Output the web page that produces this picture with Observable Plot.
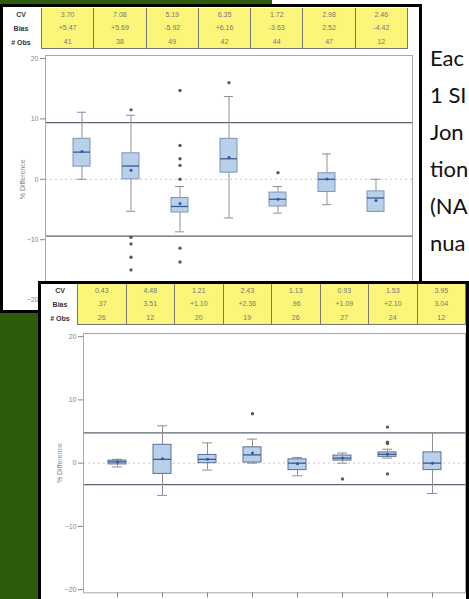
<!DOCTYPE html>
<html>
<head>
<meta charset="utf-8">
<script src="https://cdn.jsdelivr.net/npm/d3@7"></script>
<script src="https://cdn.jsdelivr.net/npm/@observablehq/plot@0.6"></script>
<style>
  html, body { margin: 0; padding: 0; background: #fff; }
  #page { position: relative; width: 469px; height: 599px; overflow: hidden; background: #fff; font-family: "Liberation Sans", Arial, sans-serif; }
  .green { position: absolute; left: 0; top: 0; width: 272px; height: 599px; background: #2e5a0c; }
  .panel { position: absolute; border: 3px solid #000; box-sizing: border-box; background: #fff; overflow: hidden; }
  .tbl { position: absolute; display: flex; background: #fbf57a; border-bottom: 1px solid #777; box-sizing: border-box; }
  .col { flex: 1; border-left: 1px solid #777; display: flex; flex-direction: column; justify-content: space-around; align-items: center; font-size: 7px; color: #777; }
  .col:last-child { border-right: 1px solid #777; }
  .lab { position: absolute; display: flex; flex-direction: column; justify-content: space-around; align-items: center; font-size: 7px; font-weight: bold; color: #333; }
  .side { position: absolute; left: 430px; top: 39px; font-family: Lato, "Open Sans", sans-serif; font-size: 22px; line-height: 37px; color: #111; white-space: pre; }
  .panel svg { position: absolute; }
</style>
</head>
<body>
<div id="page">
  <div class="green"></div>
  <div class="side" id="side"></div>
  <div class="panel" id="p1" style="left:0px; top:4px; width:422px; height:309px;"></div>
  <div class="panel" id="p2" style="left:38px; top:281px; width:431px; height:340px;"></div>
</div>
<script>
// ---------- Panel 1 (top) ----------
const cats1 = ["1", "2", "3", "4", "5", "6", "7"];
const cv1   = ["3.70", "7.08", "5.19", "6.35", "1.72", "2.98", "2.46"];
const bias1 = ["+5.47", "+5.69", "-5.92", "+6.16", "-3.63", "2.52", "-4.42"];
const obs1  = ["41", "38", "49", "42", "44", "47", "12"];
const lo1   = [0.0, -5.3, -8.7, -6.4, -5.6, -4.2, -5.3];
const q1s1  = [2.1, 0.0, -5.5, 1.1, -4.5, -2.1, -5.4];
const med1  = [4.5, 2.2, -4.5, 3.4, -3.3, 0.0, -3.1];
const q3s1  = [6.7, 4.3, -3.1, 6.7, -2.2, 1.0, -2.0];
const hi1   = [11.1, 10.6, -1.2, 13.7, -1.2, 4.2, 0.0];
const mean1 = [4.6, 1.5, -4.0, 3.6, -3.3, 0.05, -3.5];
const outCat1 = ["2", "2", "2", "2", "2", "3", "3", "3", "3", "3", "3", "3", "4", "5"];
const outVal1 = [11.5, -9.6, -10.7, -12.9, -15.0, 14.7, 5.6, 3.4, 2.3, 0.0, -11.4, -13.7, 16.0, 1.1];
const limits1 = [9.4, -9.4];

// ---------- Panel 2 (bottom) ----------
const cats2 = ["1", "2", "3", "4", "5", "6", "7", "8"];
const cv2   = ["0.43", "4.48", "1.21", "2.43", "1.13", "0.93", "1.53", "3.95"];
const bias2 = [".37", "3.51", "+1.10", "+2.36", ".96", "+1.09", "+2.10", "3.04"];
const obs2  = ["26", "12", "20", "19", "26", "27", "24", "12"];
const lo2   = [-0.6, -5.1, -1.1, 0.0, -2.0, 0.0, 0.8, -4.8];
const q1s2  = [-0.2, -1.7, 0.0, 0.1, -1.1, 0.4, 1.0, -1.1];
const med2  = [0.2, 0.6, 0.6, 1.3, 0.0, 0.8, 1.4, 0.0];
const q3s2  = [0.4, 2.9, 1.3, 2.5, 0.6, 1.2, 1.7, 1.7];
const hi2   = [0.6, 5.9, 3.2, 3.8, 0.9, 1.6, 2.2, 4.8];
const mean2 = [0.2, 0.7, 0.6, 1.6, -0.1, 0.8, 1.4, 0.0];
const outCat2 = ["4", "6", "7", "7", "7", "7"];
const outVal2 = [7.8, -2.5, 5.7, 3.3, 3.1, -1.7];
const limits2 = [4.8, -3.4];

const rowLabels = ["CV", "Bias", "# Obs"];
const yTicks = [-20, -10, 0, 10, 20];
const sideText = ["Eac", "1 SI", "Jon", "tion", "(NA", "nua"];

document.getElementById("side").textContent = sideText.join("\n");

function buildTable(panel, cv, bias, obs, tbl, lab) {
  const t = document.createElement("div");
  t.className = "tbl";
  Object.assign(t.style, tbl);
  cv.forEach((c, i) => {
    const col = document.createElement("div");
    col.className = "col";
    [c, bias[i], obs[i]].forEach(s => { const d = document.createElement("div"); d.textContent = s; col.appendChild(d); });
    t.appendChild(col);
  });
  panel.appendChild(t);
  const l = document.createElement("div");
  l.className = "lab";
  Object.assign(l.style, lab);
  rowLabels.forEach(s => { const d = document.createElement("div"); d.textContent = s; l.appendChild(d); });
  panel.appendChild(l);
}

function boxPlot(o) {
  const stats = o.cats.map((c, i) => ({cat: c, lo: o.lo[i], q1: o.q1[i], med: o.med[i], q3: o.q3[i], hi: o.hi[i], mean: o.mean[i]}));
  const outs = o.outCat.map((c, i) => ({cat: c, v: o.outVal[i]}));
  return Plot.plot({
    width: o.width, height: o.height,
    marginLeft: 42, marginRight: o.marginRight, marginTop: o.marginTop, marginBottom: 30,
    style: {background: "transparent", fontFamily: "Liberation Sans, Arial, sans-serif", fontSize: "7px", color: "#888", overflow: "visible"},
    x: {type: "band", domain: o.cats, paddingInner: o.pi, paddingOuter: o.po, axis: null},
    y: {domain: [-20.5, 20.5], axis: null},
    marks: [
      Plot.ruleY([0], {stroke: "#c8c8c8", strokeDasharray: "2,3"}),
      Plot.ruleY(o.limits, {stroke: "#5d6475", strokeWidth: 1.2}),
      Plot.ruleX(stats, {x: "cat", y1: "lo", y2: "hi", stroke: "#8f8f8f"}),
      Plot.tickY(stats, {x: "cat", y: "lo", stroke: "#8f8f8f", insetLeft: 4, insetRight: 4}),
      Plot.tickY(stats, {x: "cat", y: "hi", stroke: "#8f8f8f", insetLeft: 4, insetRight: 4}),
      Plot.barY(stats, {x: "cat", y1: "q1", y2: "q3", fill: "#b9d0ea", stroke: o.boxStroke, strokeWidth: 1}),
      Plot.tickY(stats, {x: "cat", y: "med", stroke: "#3b5a8c", strokeWidth: 1.3}),
      Plot.dot(stats, {x: "cat", y: "mean", r: 1.5, fill: "#2f54a8"}),
      Plot.dot(outs, {x: "cat", y: "v", r: 1.7, fill: "#5a5a5a"}),
      Plot.frame({stroke: "#a8a8a8"}),
      Plot.axisY({ticks: yTicks, tickSize: 5, tickPadding: 2, label: "% Difference", labelAnchor: "center", labelArrow: "none", labelOffset: o.labelOffset, fontSize: 7}),
      o.xTicks ? Plot.axisX({tickSize: 5, tickFormat: () => "", label: null}) : null
    ]
  });
}

// Top panel
const p1 = document.getElementById("p1");
buildTable(p1, cv1, bias1, obs1,
  {left: "38px", top: "1px", width: "367px", height: "41px"},
  {left: "0px", top: "1px", width: "36px", height: "41px"});
const svg1 = boxPlot({cats: cats1, lo: lo1, q1: q1s1, med: med1, q3: q3s1, hi: hi1, mean: mean1,
  outCat: outCat1, outVal: outVal1, limits: limits1,
  width: 415, height: 7 + 247.6 + 30, marginRight: 6, marginTop: 7,
  pi: 0.658, po: 0.521, labelOffset: 25, boxStroke: "#7f93b8", xTicks: false});
svg1.style.left = "0px"; svg1.style.top = "41px";
p1.appendChild(svg1);

// Bottom panel
const p2 = document.getElementById("p2");
buildTable(p2, cv2, bias2, obs2,
  {left: "36px", top: "0px", width: "389px", height: "41px"},
  {left: "1px", top: "0px", width: "36px", height: "41px"});
const svg2 = boxPlot({cats: cats2, lo: lo2, q1: q1s2, med: med2, q3: q3s2, hi: hi2, mean: mean2,
  outCat: outCat2, outVal: outVal2, limits: limits2,
  width: 425, height: 8 + 259.3 + 30, marginRight: 1, marginTop: 8,
  pi: 0.608, po: 0.464, labelOffset: 26, boxStroke: "#5d6f95", xTicks: true});
svg2.style.left = "0px"; svg2.style.top = "41px";
p2.appendChild(svg2);
</script>
</body>
</html>
